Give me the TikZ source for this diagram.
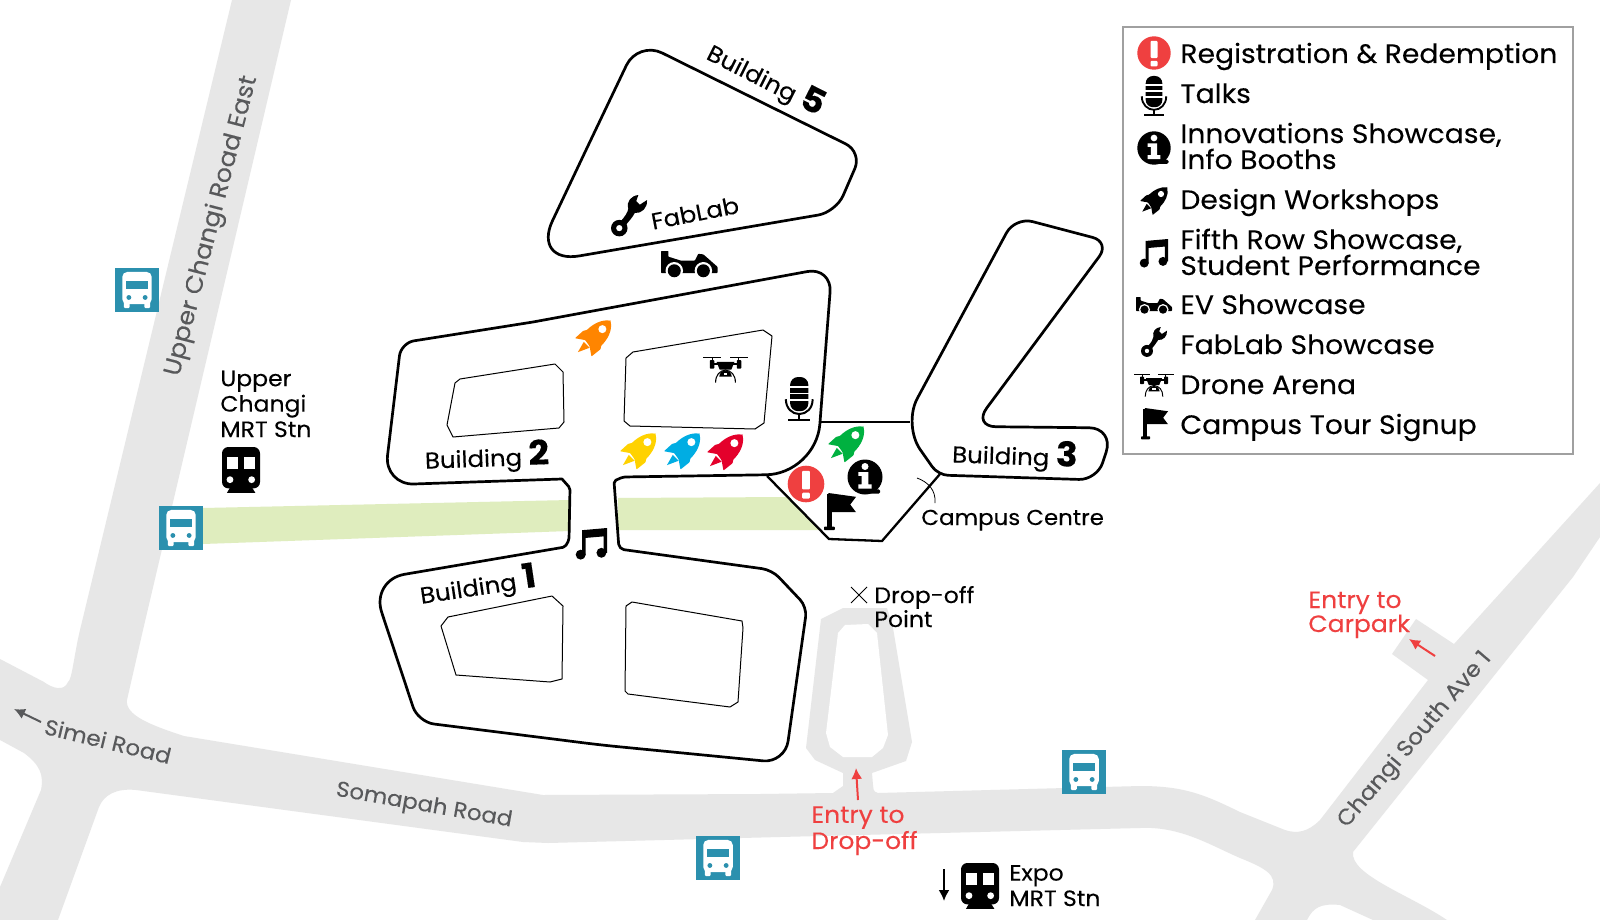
\documentclass[tikz,border=0pt]{standalone}
\usepackage{fontspec}
\usetikzlibrary{arrows.meta}
\setmainfont{Poppins}[FakeStretch=1.06,FakeBold=0.15]
\definecolor{road}{HTML}{E7E7E7}
\definecolor{band}{HTML}{DFEDBE}
\definecolor{busc}{HTML}{2B90AE}
\definecolor{redm}{HTML}{EF4040}
\definecolor{roadt}{HTML}{58595B}
\definecolor{legb}{HTML}{A0A0A0}
\definecolor{rorange}{HTML}{FF8500}
\definecolor{ryellow}{HTML}{FFD200}
\definecolor{rblue}{HTML}{00ADE3}
\definecolor{rred}{HTML}{E4002B}
\definecolor{rgreen}{HTML}{00B140}
\tikzset{
  bld/.style={draw=black,line width=1.35pt,line join=round},
  cmp/.style={draw=black,line width=1.15pt,line join=miter},
  court/.style={draw=black,line width=0.5pt,line join=round},
  lg/.style={anchor=base west,inner sep=0pt,font=\fontsize{13.3}{13}\selectfont,align=left},
  lab/.style={anchor=base west,inner sep=0pt,font=\fontsize{11.1}{12.7}\selectfont,align=left},
  labt/.style={anchor=base west,inner sep=0pt,font=\fontsize{11.1}{12}\selectfont,align=left},
  redl/.style={anchor=base west,inner sep=0pt,text=redm,font=\fontsize{11.8}{12}\selectfont,align=left},
  rdl/.style={inner sep=0pt,text=roadt},
  bl/.style={inner sep=0pt,font=\fontsize{11.5}{12}\selectfont},
  arr/.style={-{Latex[length=5.5pt,width=5.5pt]},line width=1pt}
}
\newcommand\bignum[1]{{\bfseries\fontsize{17}{17}\selectfont #1}}
% icons: x, y of top-left corner, unit in px
\newcommand\icrocket[4]{\begin{scope}[shift={(#1,#2)},scale=#3]
 \fill[#4,rounded corners=0.3pt] (0.97,0.02) .. controls (1.04,0.28) and (0.88,0.55) .. (0.72,0.70) -- (0.70,0.80) -- (0.45,1.0) -- (0.40,0.72) -- (0.28,0.55) -- (0,0.50) -- (0.22,0.30) -- (0.33,0.27) .. controls (0.5,0.1) and (0.75,-0.02) .. (0.97,0.02) -- cycle;
 \fill[#4] (0.24,0.60) -- (0.40,0.76) -- (0.08,0.88) -- cycle;
 \fill[white] (0.75,0.25) circle[radius=0.11];
 \end{scope}}
\newcommand\icbus[2]{\begin{scope}[shift={(#1,#2)},scale=44]
 \fill[busc] (0,0) rectangle (1,1);
 \fill[white,rounded corners=2.5pt] (0.165,0.09) rectangle (0.835,0.82);
 \fill[white,rounded corners=0.6pt] (0.2,0.75) rectangle (0.335,0.91);
 \fill[white,rounded corners=0.6pt] (0.665,0.75) rectangle (0.8,0.91);
 \fill[busc] (0.255,0.285) rectangle (0.745,0.475);
 \fill[busc] (0.315,0.67) circle[radius=0.055];
 \fill[busc] (0.685,0.67) circle[radius=0.055];
 \end{scope}}
\newcommand\ictrain[2]{\begin{scope}[shift={(#1,#2)},scale=38]
 \fill[black,rounded corners=3.2pt] (0,0) rectangle (1,1.09);
 \fill[black] (0.22,1.05) -- (0.13,1.21) -- (0.88,1.21) -- (0.78,1.05) -- cycle;
 \fill[white] (0.13,0.265) rectangle (0.43,0.575);
 \fill[white] (0.57,0.265) rectangle (0.88,0.575);
 \fill[white] (0.21,0.86) circle[radius=0.09];
 \fill[white] (0.78,0.86) circle[radius=0.09];
 \end{scope}}
\newcommand\icnote[3]{\begin{scope}[shift={(#1,#2)},scale=#3]
 \fill[black] (0.2,0.07) -- (1,0) -- (1,0.8) -- (0.89,0.8) -- (0.89,0.27) -- (0.31,0.32) -- (0.31,0.88) -- (0.2,0.88) -- cycle;
 \fill[black] (0.15,0.86) circle[radius=0.16];
 \fill[black] (0.82,0.8) circle[radius=0.16];
 \end{scope}}
\newcommand\icmic[3]{\begin{scope}[shift={(#1,#2)},scale=#3]
 \fill[black,rounded corners=#3*0.14pt] (0.18,0) rectangle (0.82,1.2);
 \foreach \yy in {0.35,0.58,0.81}{\fill[white] (0.15,\yy-0.03) rectangle (0.85,\yy+0.03);}
 \draw[black,line width=#3*0.035pt] (0.03,0.78) .. controls (0.03,1.1) and (0.25,1.3) .. (0.5,1.3) .. controls (0.75,1.3) and (0.97,1.1) .. (0.97,0.78);
 \fill[black] (0.46,1.3) rectangle (0.54,1.48);
 \fill[black] (0.12,1.46) rectangle (0.88,1.53);
 \end{scope}}
\newcommand\icinfo[3]{\begin{scope}[shift={(#1,#2)},scale=#3]
 \fill[black] (0,0) circle[radius=1];
 \fill[black,rounded corners=0.8pt] (0.15,0.7) rectangle (0.87,0.95);
 \fill[white] (0,-0.6) circle[radius=0.2];
 \fill[white] (-0.38,-0.28) -- (0.19,-0.28) -- (0.19,0.42) -- (0.38,0.42) -- (0.38,0.66) -- (-0.38,0.66) -- (-0.38,0.42) -- (-0.19,0.42) -- (-0.19,-0.06) -- (-0.38,-0.06) -- cycle;
 \end{scope}}
\newcommand\icalert[3]{\begin{scope}[shift={(#1,#2)},scale=#3]
 \fill[redm] (0,0) circle[radius=1];
 \fill[white,rounded corners=0.5pt] (-0.21,-0.72) rectangle (0.21,0.3);
 \fill[white,rounded corners=0.5pt] (-0.21,0.47) rectangle (0.21,0.8);
 \end{scope}}
\newcommand\icflag[3]{\begin{scope}[shift={(#1,#2)},scale=#3]
 \fill[black] (0.09,0.02) rectangle (0.24,1.1);
 \fill[black,rounded corners=0.4pt] (0,1.05) rectangle (0.34,1.16);
 \fill[black] (0.14,0) -- (1,0.12) -- (0.82,0.36) -- (1,0.6) -- (0.14,0.6) -- cycle;
 \end{scope}}
\newcommand\iccar[3]{\begin{scope}[shift={(#1,#2)},scale=#3]
 \fill[black,rounded corners=0.3pt] (0,0) -- (0.13,0) -- (0.13,0.1) -- (0.35,0.17) -- (0.6,0.17) -- (0.66,0.05) -- (0.75,0.06) -- (1,0.28) -- (1,0.39) -- (0,0.39) -- cycle;
 \fill[white] (0.235,0.35) circle[radius=0.155];
 \fill[white] (0.75,0.35) circle[radius=0.155];
 \fill[black] (0.235,0.35) circle[radius=0.115];
 \fill[black] (0.75,0.35) circle[radius=0.115];
 \end{scope}}
\newcommand\icwrench[3]{\begin{scope}[shift={(#1,#2)},scale=#3]
 \fill[black] (0.76,0) -- (0.70,0.17) -- (0.80,0.27) -- (1.0,0.14) .. controls (1.02,0.36) and (0.85,0.52) .. (0.66,0.50) .. controls (0.60,0.62) and (0.50,0.72) .. (0.40,0.85) -- (0.28,0.72) .. controls (0.38,0.60) and (0.46,0.50) .. (0.48,0.38) .. controls (0.42,0.18) and (0.56,0.02) .. (0.76,0) -- cycle;
 \fill[black,even odd rule] (0.23,0.92) circle[radius=0.23] (0.23,0.92) circle[radius=0.09];
 \end{scope}}
\newcommand\icdrone[3]{\begin{scope}[shift={(#1,#2)},scale=#3]
 \fill[black] (0,0.02) rectangle (0.41,0.055);
 \fill[black] (0.59,0.02) rectangle (1,0.055);
 \fill[black] (0.19,0.02) rectangle (0.22,0.1);
 \fill[black] (0.78,0.02) rectangle (0.81,0.1);
 \fill[black,rounded corners=0.4pt] (0.15,0.09) rectangle (0.25,0.28);
 \fill[black,rounded corners=0.4pt] (0.75,0.09) rectangle (0.85,0.28);
 \fill[black] (0.2,0.15) rectangle (0.8,0.2);
 \fill[black] (0.3,0.13) -- (0.7,0.13) -- (0.63,0.3) -- (0.37,0.3) -- cycle;
 \fill[black] (0.36,0.46) .. controls (0.37,0.38) and (0.42,0.32) .. (0.5,0.32) .. controls (0.58,0.32) and (0.63,0.38) .. (0.64,0.46) -- cycle;
 \fill[white] (0.46,0.37) rectangle (0.54,0.43);
 \draw[black,line width=#3*0.012pt] (0.28,0.59) .. controls (0.28,0.42) and (0.37,0.33) .. (0.5,0.31) .. controls (0.63,0.33) and (0.72,0.42) .. (0.72,0.59);
 \end{scope}}
\begin{document}
\begin{tikzpicture}[x=0.5pt,y=-0.5pt]
\useasboundingbox (0,0) rectangle (1600,920);
\fill[white] (0,0) rectangle (1600,920);
% roads
\fill[road] (232,0) -- (80,630) .. controls (74,655) and (72,680) .. (68,682) .. controls (64,692) and (52,688) .. (44,682) -- (0,659) -- (0,740) -- (24,753) .. controls (40,765) and (44,775) .. (41,790) -- (0,887) -- (0,920) -- (58,920) -- (99,807) .. controls (104,795) and (116,788) .. (136,790) -- (523,842) -- (548,843) -- (780,837) -- (1140,828) .. controls (1180,826) and (1210,845) .. (1240,858) .. controls (1265,868) and (1278,875) .. (1272,890) -- (1255,920) -- (1307,920) .. controls (1313,908) and (1320,903) .. (1340,905) -- (1373,920) -- (1447,920) .. controls (1410,895) and (1350,875) .. (1353,852) -- (1573,577) -- (1600,537) -- (1600,483) -- (1454,644) -- (1416,619) -- (1392,654) -- (1428,680) -- (1320,820) .. controls (1308,832) and (1297,834) .. (1285,830) -- (1240,812) .. controls (1205,795) and (1185,786) .. (1140,786) -- (878,793) .. controls (873,792) and (873,788) .. (873,785) -- (872,773) -- (906,761) -- (912,742) -- (893,628) -- (887,608) -- (843,608) -- (821,619) -- (806,748) -- (815,760) -- (843,773) -- (843,786) -- (833,793) -- (760,794) -- (543,795) -- (184,736) .. controls (150,725) and (125,715) .. (127,700) -- (143,630) -- (291,0) -- cycle;
\fill[white] (845,625) -- (868,624) -- (877,633) -- (888,735) -- (883,748) -- (872,757) -- (843,757) -- (830,747) -- (826,733) -- (838,633) -- cycle;
% walkway bands
\fill[band] (203,508) -- (570,500) -- (570,531) -- (203,544) -- cycle;
\fill[band] (618,498) -- (787,497) -- (820,530) -- (618,530) -- cycle;
% Buildings 1 & 2
\draw[bld] (533,322) -- (413,341) [rounded corners=6.5pt] -- (401,343) [rounded corners=15pt] -- (384,485) [sharp corners] -- (562,479) [rounded corners=1pt] -- (570,488) -- (569,540) -- (565,547) [rounded corners=17pt] -- (371,580) [rounded corners=8pt] -- (418,722) -- (601,745) [rounded corners=11pt] -- (785,763) [rounded corners=5pt] -- (807,607) -- (772,570) [rounded corners=2.5pt] -- (619,549) [rounded corners=1pt] -- (614,481) -- (623,477) [rounded corners=25pt] -- (816,474) [rounded corners=12.5pt] -- (832,267) [sharp corners] -- cycle;
% courts
\draw[court] (460,379) -- (555,364) -- (563,372) -- (564,422) -- (559,428) -- (453,437) -- (447,425) -- (455,383) -- cycle;
\draw[court] (633,352) -- (763,330) -- (772,336) -- (764,423) -- (755,429) -- (630,426) -- (624,421) -- (626,358) -- cycle;
\draw[court] (448,617) -- (552,596) -- (563,606) -- (562,679) -- (550,682) -- (456,675) -- (441,626) -- cycle;
\draw[court] (632,602) -- (742,621) -- (743,628) -- (738,702) -- (730,707) -- (628,694) -- (625,691) -- (626,606) -- cycle;
% Building 3
\draw[bld] (959.5,320) [rounded corners=9pt] -- (1015,217) -- (1110,242) [rounded corners=11.5pt] -- (973,426.5) [rounded corners=12.5pt] -- (1114,428) [rounded corners=9pt] -- (1097,480) [rounded corners=5pt] -- (938,475) [rounded corners=15pt] -- (903,425) [sharp corners] -- cycle;
% Building 5
\draw[bld] (586,150) [rounded corners=13.5pt] -- (638,41) [rounded corners=9pt] -- (862,152) [rounded corners=9pt] -- (836,212) [rounded corners=24pt] -- (532,264) [sharp corners] -- cycle;
% Campus centre
\draw[cmp] (767,476) -- (829,539) -- (882,541) -- (940,474);
\draw[cmp] (820,422) -- (910,422);
\draw[black,line width=0.4pt] (917,478) .. controls (928,482) and (936,490) .. (935,503);
% drop-off cross
\draw[black,line width=0.4pt] (851,587) -- (867,603) (867,587) -- (851,603);
% arrows
\coordinate (a1s) at (858,800); \coordinate (a1e) at (856,768);
\draw[arr,draw=redm,fill=redm] (a1s) -- (a1e);
\coordinate (a2s) at (1435,656); \coordinate (a2e) at (1409,639);
\draw[arr,draw=redm,fill=redm] (a2s) -- (a2e);
\coordinate (a3s) at (41,722); \coordinate (a3e) at (14,709);
\draw[arr,draw=roadt,fill=roadt] (a3s) -- (a3e);
\coordinate (a4s) at (944,869); \coordinate (a4e) at (944,901);
\draw[arr,draw=black,fill=black] (a4s) -- (a4e);
% bus stops, trains
\icbus{115}{268}\icbus{159}{506}\icbus{1062}{750}\icbus{696}{836}
\ictrain{222}{447}\ictrain{961}{863}
% map icons
\icrocket{575}{320}{36.5}{rorange}
\icrocket{620}{433}{36.5}{ryellow}
\icrocket{664}{433}{36.5}{rblue}
\icrocket{707}{434}{36.5}{rred}
\icrocket{828}{426}{36.5}{rgreen}
\icnote{576}{528}{31}
\icmic{785}{377}{28.5}
\icinfo{865}{477}{17.5}
\icalert{806}{484}{18.3}
\icflag{824}{493}{32}
\iccar{661}{251}{56.5}
\icwrench{611}{195}{36}
\icdrone{703}{356}{45}
% building labels
\node[bl,rotate=-27] (b5) at (766,79) {Building \bignum{5}};
\node[bl,rotate=2] (b2) at (487,457) {Building \bignum{2}};
\node[bl,rotate=8.5] (b1) at (478,586) {Building \bignum{1}};
\node[bl,rotate=-2] (b3) at (1015,455) {Building \bignum{3}};
\node[bl,rotate=11] (fl) at (695,213) {FabLab};
\node[lab,font=\fontsize{10.8}{12}\selectfont] (cc) at (921,525) {Campus Centre};
\node[lab] (um) at (220,437) {Upper\\Changi\\MRT Stn};
\node[lab] (ex) at (1009,906) {Expo\\MRT Stn};
\node[labt] (dp) at (874,627) {Drop-off\\Point};
\node[redl] (e1) at (811,849) {Entry to\\Drop-off};
\node[redl] (e2) at (1308,632) {Entry to\\Carpark};
% road labels
\node[rdl,rotate=75.5,font=\fontsize{12}{12}\selectfont] (r1) at (212,226) {Upper Changi Road East};
\node[rdl,rotate=-13.6,font=\fontsize{10.9}{12}\selectfont] (r2) at (108,741) {Simei Road};
\node[rdl,rotate=-10,font=\fontsize{10.8}{12}\selectfont] (r3) at (424,806) {Somapah Road};
\node[rdl,rotate=49.5,font=\fontsize{11.1}{12}\selectfont] (r4) at (1415,740) {Changi South Ave 1};
% legend
\draw[legb,line width=0.65pt] (1123,27) rectangle (1573,454);
\icalert{1154}{53}{16.7}
\icmic{1141}{76}{26}
\icinfo{1154}{148}{16.7}
\icrocket{1140}{187}{28}{black}
\icnote{1140}{239}{28}
\iccar{1136}{297}{36}
\icwrench{1141}{327}{26}
\icdrone{1134}{373}{40}
\icflag{1141}{408}{27}
\node[lg] (l1) at (1180,63) {Registration \& Redemption};
\node[lg] (l2) at (1180,103) {Talks};
\node[lg] (l3) at (1180,169) {Innovations Showcase,\\Info Booths};
\node[lg] (l4) at (1180,209) {Design Workshops};
\node[lg] (l5) at (1180,275) {Fifth Row Showcase,\\Student Performance};
\node[lg] (l6) at (1180,314) {EV Showcase};
\node[lg] (l7) at (1180,354) {FabLab Showcase};
\node[lg] (l8) at (1180,394) {Drone Arena};
\node[lg] (l9) at (1180,434) {Campus Tour Signup};
\end{tikzpicture}
\end{document}
